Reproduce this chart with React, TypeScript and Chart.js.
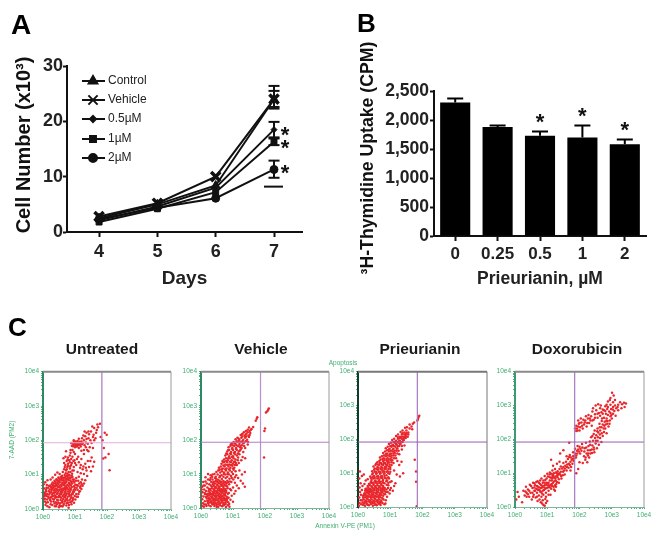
import React, { useEffect, useRef } from "react";
import { Chart, registerables } from "chart.js";
import { drawPoint } from "chart.js/helpers";

Chart.register(...registerables);

const FONT = '"Liberation Sans", Arial, sans-serif';

// Panel A
const days = [4, 5, 6, 7];
const seriesNames = ["Control", "Vehicle", "0.5\u00B5M", "1\u00B5M", "2\u00B5M"];
const controlValues = [2.5, 5.0, 8.4, 24.0];
const vehicleValues = [2.8, 5.2, 10.0, 24.0];
const halfMicroValues = [2.1, 4.6, 8.0, 18.5];
const oneMicroValues = [1.8, 4.2, 7.2, 16.3];
const twoMicroValues = [2.3, 4.4, 6.1, 11.3];
const day7High = [26.4, 25.5, 19.9, 16.9, 12.9];
const day7Low = [22.3, 22.6, 17.1, 15.7, 9.8];
const day7ExtraCap = 8.2;
const cellStars = [17.9, 15.5, 11.0];

// Panel B
const doses = ["0", "0.25", "0.5", "1", "2"];
const uptake = [2300, 1880, 1730, 1700, 1580];
const uptakeHigh = [2370, 1905, 1800, 1905, 1665];
const uptakeStars = [0, 0, 2000, 2105, 1860];

// Panel C: dots are (Annexin, 7-AAD) pairs, in hundredths of a log decade
const flowTickLabels = ["10e0", "10e1", "10e2", "10e3", "10e4"];
const flowTitles = ["Untreated", "Vehicle", "Prieurianin", "Doxorubicin"];
const gateX = [184, 186, 184, 185];
const gateY = [193, 193, 192, 192];

const untreatedDots = [
  28,42, 37,40, 44,44, 52,41, 57,43, 66,42, 71,39, 81,44, 88,41,
  22,47, 31,46, 38,49, 46,47, 53,45, 60,48, 68,47, 74,45, 83,48, 92,46,
  18,52, 26,50, 34,54, 41,52, 49,53, 56,50, 63,54, 70,52, 78,51, 85,53, 94,51,
  21,57, 28,59, 36,56, 43,58, 50,56, 57,57, 65,59, 71,56, 79,57, 87,58, 96,56,
  16,62, 25,63, 33,62, 40,60, 47,64, 54,62, 61,60, 68,63, 75,61, 83,62, 90,64, 99,62,
  22,67, 31,69, 37,66, 44,68, 51,66, 58,67, 66,69, 72,66, 80,67, 87,69, 97,66,
  27,72, 34,74, 41,70, 48,73, 55,71, 62,72, 69,74, 76,71, 84,72, 91,74, 101,71,
  30,77, 39,79, 45,76, 52,78, 60,76, 66,77, 73,79, 81,76, 88,79, 98,77,
  36,82, 44,84, 51,81, 59,83, 65,82, 72,80, 80,84, 86,82, 95,81,
  42,87, 50,89, 57,86, 64,88, 71,86, 78,87, 85,89, 93,86,
  48,92, 56,94, 63,91, 70,93, 77,92, 84,90, 92,93,
  60,97, 68,99, 75,96, 83,98, 90,96,
  3,30, 6,22, 8,12, 5,44, 9,52, 4,60, 11,38, 13,28, 15,20, 18,33, 22,26, 24,14, 26,36,
  30,30, 33,22, 36,16, 38,33, 41,8, 44,27, 47,18, 49,34, 52,11, 55,26, 57,33, 59,19,
  61,7, 63,29, 65,15, 68,34, 70,23, 73,10, 75,30, 78,18, 80,4, 84,27, 87,33, 90,22,
  94,31, 99,38, 104,44, 109,36, 113,50, 108,56, 116,62, 120,58, 124,68, 128,74, 118,78,
  110,82, 106,70, 104,90, 112,94, 122,86, 132,84, 138,96, 128,102, 118,104, 108,108,
  2,72, 7,78, 12,70, 14,84, 24,86, 30,92, 38,100, 45,106, 52,102,
  62,108, 66,116, 72,112, 76,122, 80,108, 84,118, 88,128, 92,112, 96,122, 100,134, 78,132,
  70,128, 82,142, 88,146, 74,140, 66,134, 92,152, 84,156, 78,150, 98,142, 104,128,
  116,120, 124,116, 136,112, 144,122, 150,110, 156,124, 160,138, 148,140, 132,132, 120,146, 110,152,
  96,166, 86,172, 72,168, 64,148,
  90,184, 94,190, 98,186, 101,192, 104,188, 107,194, 110,186, 113,191, 116,187, 119,193, 122,189,
  96,195, 102,197, 108,198, 114,196, 120,197, 125,192, 106,182, 100,180, 112,178, 118,182,
  130,186, 134,194, 140,190, 128,200, 136,204, 132,212, 142,206, 148,200, 152,192, 146,180,
  128,172, 138,172, 156,178, 160,200, 126,214, 136,222, 144,218, 150,226, 158,216, 164,206,
  168,230, 160,236, 172,238, 154,240, 178,248, 170,246, 166,222, 180,210,
  199,216, 193,222, 205,160, 195,150, 208,113, 188,147, 186,200, 190,178,
  4,38, 7,48, 10,56, 13,44, 16,36, 19,42, 23,33, 27,55, 31,38, 35,47, 39,37, 43,35, 47,55, 50,38, 54,35,
  58,53, 62,38, 67,36, 69,58, 73,44, 77,36, 82,38, 86,55, 89,34, 93,44, 97,50, 101,56, 105,62, 109,68, 113,74,
  117,66, 121,72, 103,82, 97,86, 89,93, 81,92, 73,87, 66,90, 58,90, 53,86, 46,82, 39,74, 33,66, 27,64, 19,68,
  11,62, 8,40, 6,30, 10,18, 14,8, 20,5, 25,22, 29,12, 34,28, 37,8, 40,20, 43,14, 47,25, 50,5, 53,17, 56,9,
  60,23, 64,12, 67,22, 71,28, 74,17, 77,25, 81,12, 85,20, 89,14, 93,26, 97,18, 101,28, 105,36, 111,44, 115,52,
  76,103, 81,100, 86,108, 91,103, 96,112, 71,104, 68,122, 74,116, 79,126, 85,124, 90,134, 95,140, 84,136, 77,144, 70,152,
  86,164, 92,172, 100,160, 106,146, 112,136, 118,128, 126,124, 134,120, 140,140, 152,150, 128,160, 120,170, 134,180, 142,168,
  156,210, 142,226, 130,226, 122,206, 112,205, 96,200, 88,192, 93,183, 103,185, 106,191, 111,189, 117,190, 99,189,
];

const vehicleDots = [
  24,8, 30,5, 36,10, 42,6, 48,9, 54,4, 60,8, 66,5, 72,9, 22,14, 28,16, 34,13, 40,17, 46,14, 52,16, 58,13, 64,17, 70,14, 76,16,
  20,21, 26,23, 32,20, 38,24, 44,21, 50,23, 56,20, 62,24, 68,21, 74,23, 80,20,
  18,28, 24,30, 30,27, 36,31, 42,28, 48,30, 54,27, 60,31, 66,28, 72,30, 78,27,
  20,35, 26,37, 32,34, 38,38, 44,35, 50,37, 56,34, 62,38, 68,35, 74,37, 80,34,
  22,42, 28,44, 34,41, 40,45, 46,42, 52,44, 58,41, 64,45, 70,42, 76,44, 84,42,
  24,49, 30,51, 36,48, 42,52, 48,49, 54,51, 60,48, 66,52, 72,49, 78,51,
  28,56, 34,58, 40,55, 46,59, 52,56, 58,58, 64,55, 70,59, 76,56, 83,58,
  34,63, 40,65, 46,62, 52,66, 58,63, 64,65, 70,62, 76,66, 82,63,
  38,70, 44,72, 50,69, 56,73, 62,70, 68,72, 74,69, 80,73, 88,70,
  40,77, 46,79, 52,76, 58,80, 64,77, 70,79, 76,76, 82,80, 90,78,
  3,6, 6,14, 9,4, 12,20, 15,10, 4,26, 8,34, 13,40, 5,46, 10,54, 16,50, 4,62, 12,66, 20,60, 7,76, 18,72, 26,70, 32,76,
  22,84, 30,88, 36,84, 14,90, 44,88, 88,12, 92,24, 96,36, 100,18, 104,42, 94,52, 100,60, 108,50, 112,66, 118,58, 106,74, 96,88,
  86,30, 84,8, 78,3, 137,62, 131,72, 124,80, 137,106, 128,98, 116,88, 110,96, 120,110, 108,108,
  46,92, 52,98, 58,90, 64,96, 70,92, 76,98, 82,92, 88,98, 94,94, 100,100,
  42,100, 48,106, 54,110, 60,104, 66,108, 72,104, 78,110, 84,104, 90,110, 96,106, 102,112,
  56,118, 62,122, 68,116, 74,122, 80,116, 86,122, 92,118, 98,124, 104,118,
  64,130, 70,134, 76,128, 82,134, 88,128, 94,134, 100,130, 106,136, 112,126, 118,132,
  72,142, 78,146, 84,140, 90,146, 96,140, 102,146, 108,142, 116,148, 126,140,
  76,154, 82,158, 88,152, 94,158, 100,152, 106,158, 112,154, 120,158, 130,150, 138,146,
  82,166, 88,170, 94,164, 100,170, 106,164, 112,170, 118,166, 124,172, 132,164,
  86,178, 92,182, 98,176, 104,182, 110,176, 116,182, 122,178, 128,184, 138,176,
  96,190, 102,194, 108,188, 114,194, 120,188, 126,194, 132,190, 140,196, 146,186,
  108,202, 114,206, 120,200, 126,206, 132,200, 138,206, 144,200, 150,208,
  124,214, 130,218, 136,212, 142,218, 148,212, 154,220, 140,226, 146,230, 152,226, 158,232, 163,238, 150,236,
  174,262, 171,256, 176,266, 200,233, 197,148, 207,284, 203,280, 210,288, 212,292, 198,226,
  10,10, 17,6, 21,18, 25,27, 33,18, 37,26, 41,12, 45,24, 49,3, 53,10, 57,28, 61,15, 65,22, 69,8, 73,26, 77,12, 81,24, 85,17, 89,4,
  35,33, 39,41, 43,48, 47,32, 51,46, 55,39, 59,52, 63,32, 67,47, 71,54, 75,38, 79,47, 83,30, 87,44, 91,56,
  29,40, 25,56, 31,66, 37,74, 43,60, 49,78, 55,60, 61,76, 67,67, 73,75, 79,66, 85,76, 47,86, 53,83, 59,94, 65,85, 71,100, 77,88, 83,100, 89,86, 95,76, 101,84, 106,90,
  58,112, 64,114, 70,125, 76,114, 82,126, 88,114, 94,126, 100,116, 106,126, 67,138, 73,136, 79,138, 85,146, 91,136, 97,150, 103,136, 109,132, 115,140,
  79,160, 85,170, 91,160, 97,174, 103,162, 109,174, 115,160, 121,168, 127,176, 93,186, 99,184, 105,190, 111,184, 117,196, 123,182, 129,196, 135,182,
  111,196, 117,204, 123,194, 129,210, 135,192, 141,210, 147,194, 128,216, 134,222, 140,216, 146,222, 152,214, 156,230,
  30,96, 36,98, 22,100, 14,78, 8,66, 2,54, 1,36, 16,32, 12,44, 19,40, 28,82, 35,92,
];

const prieurianinDots = [
  16,6, 22,4, 28,8, 34,5, 40,9, 46,4, 52,7, 58,5, 64,9, 14,13, 20,15, 26,12, 32,16, 38,13, 44,15, 50,12, 56,16, 62,13, 68,15,
  12,20, 18,22, 24,19, 30,23, 36,20, 42,22, 48,19, 54,23, 60,20, 66,22, 72,19,
  16,27, 22,29, 28,26, 34,30, 40,27, 46,29, 52,26, 58,30, 64,27, 70,29, 76,26,
  18,34, 24,36, 30,33, 36,37, 42,34, 48,36, 54,33, 60,37, 66,34, 72,36, 78,33,
  20,41, 26,43, 32,40, 38,44, 44,41, 50,43, 56,40, 62,44, 68,41, 74,43, 80,40,
  22,48, 28,50, 34,47, 40,51, 46,48, 52,50, 58,47, 64,51, 70,48, 76,50, 82,47,
  26,55, 32,57, 38,54, 44,58, 50,55, 56,57, 62,54, 68,58, 74,55, 80,57,
  30,62, 36,64, 42,61, 48,65, 54,62, 60,64, 66,61, 72,65, 78,62,
  36,69, 42,71, 48,68, 54,72, 60,69, 66,71, 72,68, 78,72,
  3,4, 5,12, 8,20, 4,28, 9,36, 6,44, 12,50, 5,58, 14,62, 8,70, 20,68, 4,84, 6,105, 12,92, 24,78, 30,82, 18,96,
  70,6, 76,12, 82,8, 86,20, 90,30, 84,38, 92,44, 88,52, 98,40, 102,56, 94,64, 108,48, 112,62, 116,70, 104,76, 96,84,
  42,80, 48,84, 54,78, 60,84, 66,80, 72,86, 78,80, 84,86, 90,78,
  38,90, 44,96, 50,92, 56,98, 62,92, 68,98, 74,92, 80,98, 88,94, 98,98,
  44,106, 50,110, 56,104, 62,110, 68,104, 74,110, 80,106, 86,112, 92,106, 100,112, 140,100, 130,90, 120,96, 112,108,
  48,120, 54,124, 60,118, 66,124, 72,118, 78,124, 84,118, 90,124, 96,120, 104,124,
  60,132, 66,136, 72,130, 78,136, 84,130, 90,136, 96,132, 102,138, 110,130, 135,134, 128,124, 122,136,
  68,146, 74,150, 80,144, 86,150, 92,144, 98,150, 104,146, 110,152, 118,144,
  78,160, 84,164, 90,158, 96,164, 102,158, 108,164, 114,160, 120,166, 128,156,
  86,174, 92,178, 98,172, 104,178, 110,172, 116,178, 122,174, 128,180, 136,170,
  96,186, 102,190, 108,184, 114,190, 120,184, 126,190, 132,186, 138,192, 144,182,
  106,198, 112,202, 118,196, 124,202, 130,196, 136,202, 142,198, 148,204,
  118,210, 124,214, 130,208, 136,214, 142,208, 148,214, 154,208,
  132,222, 138,226, 144,220, 150,226, 156,220, 160,232, 152,236, 146,234, 166,238, 170,246, 160,244, 174,250, 168,230,
  188,266, 186,260, 190,270, 184,256, 180,105, 180,75, 176,140, 182,2,
  10,8, 19,10, 25,16, 31,7, 37,18, 43,10, 49,17, 55,8, 61,18, 67,11, 73,14, 79,22, 85,10, 15,33, 21,38, 27,31, 33,42, 39,31, 45,38, 51,31, 57,42, 63,31, 69,38, 75,46, 81,52, 87,44, 93,56, 99,50,
  23,53, 29,45, 35,52, 41,46, 47,54, 53,60, 59,53, 65,60, 71,53, 77,60, 83,56, 89,66, 34,68, 40,75, 46,72, 52,76, 58,74, 64,76, 70,74, 76,76, 82,70, 88,76, 94,72, 100,74,
  40,86, 46,88, 52,86, 58,90, 64,86, 70,90, 76,86, 82,92, 88,84, 94,88, 46,100, 52,104, 58,100, 64,104, 70,100, 76,104, 82,100, 88,104, 94,100, 100,104,
  52,114, 58,112, 64,116, 70,112, 76,116, 82,112, 88,118, 94,112, 100,118, 56,128, 62,126, 68,130, 74,126, 80,130, 86,126, 92,130, 98,126, 104,132,
  70,140, 76,142, 82,138, 88,142, 94,138, 100,142, 106,138, 112,144, 80,152, 86,156, 92,152, 98,156, 104,152, 110,158, 116,152, 122,158,
  90,168, 96,170, 102,166, 108,170, 114,166, 120,172, 126,166, 100,180, 106,182, 112,180, 118,186, 124,180, 130,186, 136,180,
  110,192, 116,194, 122,192, 128,196, 134,192, 140,198, 124,206, 130,204, 136,208, 142,204, 148,210, 138,218, 144,214, 150,218, 156,214,
];

const doxorubicinDots = [
  88,6, 84,10, 92,4, 96,12, 80,14, 70,18, 76,22, 86,20, 94,24, 100,18,
  8,44, 4,22, 12,30, 22,14, 30,34, 26,48, 34,60, 36,42, 40,52, 44,30, 46,66, 48,42, 52,22, 54,56, 56,72, 58,36, 60,48, 62,64, 64,28,
  66,54, 68,42, 70,76, 72,60, 74,34, 76,50, 78,68, 80,44, 82,84, 84,58, 86,72, 88,36, 90,50, 92,64, 94,80, 96,42, 98,56,
  100,70, 102,90, 104,48, 106,62, 108,78, 110,36, 112,54, 114,68, 116,84, 118,96, 120,60, 122,76, 124,48, 126,90, 128,68, 130,100,
  68,62, 74,72, 82,64, 88,78, 92,72, 98,84, 104,72, 108,88, 114,78, 120,88, 126,78, 132,88, 136,72, 140,96, 144,84,
  60,58, 72,50, 80,56, 86,48, 94,54, 102,58, 110,66, 118,72, 124,64, 130,74, 136,82, 142,104, 148,94, 152,108, 146,114, 154,96,
  132,106, 138,112, 126,102, 134,96, 120,100, 116,108, 124,112, 112,98, 142,120, 150,118, 156,122, 160,108, 162,126, 158,134, 166,116,
  150,130, 170,124, 172,134, 164,142, 176,140, 168,148, 178,128, 180,150, 174,118, 182,136, 160,150, 184,144, 170,154, 186,158,
  190,152, 192,166, 180,162, 196,170, 202,158, 186,172, 200,178, 206,166, 194,180, 172,108, 130,128, 118,122, 138,134, 190,100,
  210,130, 218,140, 224,132, 230,146, 214,150, 222,158, 234,158, 226,168, 238,170, 216,174, 228,180, 240,182, 208,186, 220,190,
  232,194, 244,176, 246,162, 250,188, 254,174, 242,196, 236,206, 248,204, 256,196, 260,184, 252,212, 244,216, 264,204, 258,220,
  268,192, 272,210, 264,226, 276,222, 256,232, 268,236, 280,232, 284,218, 272,244, 286,246, 278,252, 290,238, 262,246, 294,256,
  284,262, 296,268, 288,272, 300,262, 276,264, 304,276, 292,282, 282,276, 308,284, 298,290, 270,262, 312,270, 286,290, 304,296,
  186,232, 190,240, 194,226, 198,246, 202,236, 206,250, 210,232, 214,244, 218,256, 222,238, 226,262, 230,248, 234,256, 238,240,
  196,256, 204,262, 212,258, 220,268, 228,272, 236,268, 240,282, 244,258, 248,274, 252,286, 256,264, 260,278, 264,292, 268,280,
  272,276, 276,286, 280,298, 242,292, 250,300, 258,304, 266,300, 284,302, 288,312, 296,302, 304,310, 314,292, 320,302, 326,310,
  332,304, 338,308, 344,306, 320,286, 330,292, 340,296, 296,322, 301,338, 306,330, 294,316, 310,316, 168,190, 150,168, 140,158,
  112,140, 200,132, 196,112,
  70,52, 78,46, 84,40, 91,58, 97,66, 103,64, 109,58, 115,62, 121,52, 127,60, 107,96, 113,86, 119,92, 125,84, 131,94, 137,100, 143,92, 149,104, 155,114, 161,118,
  167,128, 173,146, 179,142, 185,152, 189,146, 193,158, 198,164, 203,172, 209,176, 215,164, 221,176, 227,158, 233,168, 239,160, 245,170, 251,196, 257,206, 263,214, 269,218, 275,232,
  281,244, 287,254, 293,246, 299,272, 283,254, 277,240, 269,254, 263,236, 255,224, 247,226, 240,210, 233,184, 226,152, 219,146, 192,232, 196,238, 200,248, 208,240, 216,250, 224,248,
  232,262, 240,256, 248,264, 256,276, 264,270, 272,288, 280,284, 288,296, 296,278, 303,288, 310,300, 318,296, 190,225, 200,226, 78,78, 66,74, 60,70, 54,42, 50,62, 44,48,
  40,38, 36,30, 32,46, 56,30, 68,30, 82,30, 96,30, 104,36, 92,92, 100,98, 108,102, 116,92, 98,72, 86,62, 74,58, 62,48,
];

const flowDots = [untreatedDots, vehicleDots, prieurianinDots, doxorubicinDots];

const toPoints = (flat: number[]) => {
  const pts: { x: number; y: number }[] = [];
  for (let i = 0; i + 1 < flat.length; i += 2) pts.push({ x: flat[i], y: flat[i + 1] });
  return pts;
};

const fixedSize = (prop: "width" | "height", size: number) => (scale: any) => {
  scale[prop] = size;
};

const starFont = `bold 22px ${FONT}`;
const drawStar = (ctx: CanvasRenderingContext2D, x: number, y: number) => {
  ctx.font = starFont;
  ctx.textAlign = "center";
  ctx.textBaseline = "alphabetic";
  ctx.fillStyle = "#111";
  ctx.fillText("*", x, y + 9);
};

const drawRotated = (ctx: CanvasRenderingContext2D, text: string, x: number, y: number, font: string, color: string) => {
  ctx.save();
  ctx.translate(x, y);
  ctx.rotate(-Math.PI / 2);
  ctx.font = font;
  ctx.fillStyle = color;
  ctx.textAlign = "center";
  ctx.textBaseline = "middle";
  ctx.fillText(text, 0, 0);
  ctx.restore();
};

const markerStyles = [
  { pointStyle: "triangle", radius: 5, borderWidth: 1 },
  { pointStyle: "crossRot", radius: 6.5, borderWidth: 3.5 },
  { pointStyle: "rectRot", radius: 3, borderWidth: 1 },
  { pointStyle: "rect", radius: 4.2, borderWidth: 1 },
  { pointStyle: "circle", radius: 4, borderWidth: 1 },
];

const panelAPlugin = {
  id: "panelA",
  afterDatasetsDraw(chart: any) {
    const { ctx, scales } = chart;
    const x7 = scales.x.getPixelForValue(7);
    ctx.save();
    ctx.strokeStyle = "#111";
    ctx.lineWidth = 2;
    const segment = (a: number, b: number, c: number, d: number) => {
      ctx.beginPath();
      ctx.moveTo(a, b);
      ctx.lineTo(c, d);
      ctx.stroke();
    };
    day7High.forEach((hi, i) => {
      const yh = scales.y.getPixelForValue(hi);
      const yl = scales.y.getPixelForValue(day7Low[i]);
      segment(x7, yh, x7, yl);
      segment(x7 - 5.5, yh, x7 + 5.5, yh);
      segment(x7 - 5.5, yl, x7 + 5.5, yl);
    });
    const extra = scales.y.getPixelForValue(day7ExtraCap);
    segment(x7 - 10, extra, x7 + 9, extra);
    cellStars.forEach((v) => drawStar(ctx, x7 + 11, scales.y.getPixelForValue(v)));

    const rows = [81, 100, 119, 139, 158];
    seriesNames.forEach((name, i) => {
      ctx.strokeStyle = "#111";
      ctx.lineWidth = 2;
      segment(82, rows[i], 105, rows[i]);
      ctx.fillStyle = "#111";
      drawPoint(ctx, { ...markerStyles[i], rotation: 0 }, 93, rows[i]);
      ctx.font = `12px ${FONT}`;
      ctx.textAlign = "left";
      ctx.textBaseline = "middle";
      ctx.fillStyle = "#222";
      ctx.fillText(name, 108, rows[i]);
    });

    ctx.font = `bold 28px ${FONT}`;
    ctx.textAlign = "left";
    ctx.textBaseline = "alphabetic";
    ctx.fillStyle = "#000";
    ctx.fillText("A", 11, 34);
    drawRotated(ctx, "Cell Number (x10\u00B3)", 24, 145, `bold 20px ${FONT}`, "#111");
    ctx.restore();
  },
};

const panelBPlugin = {
  id: "panelB",
  afterDatasetsDraw(chart: any) {
    const { ctx, scales } = chart;
    ctx.save();
    ctx.strokeStyle = "#000";
    ctx.lineWidth = 2;
    uptakeHigh.forEach((hi, i) => {
      const x = scales.x.getPixelForValue(i);
      const yh = scales.y.getPixelForValue(hi);
      const yb = scales.y.getPixelForValue(uptake[i]);
      ctx.beginPath();
      ctx.moveTo(x, yb);
      ctx.lineTo(x, yh);
      ctx.moveTo(x - 8, yh);
      ctx.lineTo(x + 8, yh);
      ctx.stroke();
      if (uptakeStars[i]) drawStar(ctx, x, scales.y.getPixelForValue(uptakeStars[i]));
    });
    ctx.font = `bold 26px ${FONT}`;
    ctx.textAlign = "left";
    ctx.textBaseline = "alphabetic";
    ctx.fillStyle = "#000";
    ctx.fillText("B", 27, 32);
    drawRotated(ctx, "\u00B3H-Thymidine Uptake (CPM)", 38, 158, `bold 17.7px ${FONT}`, "#111");
    ctx.restore();
  },
};

type FlowLayout = {
  left: number; width: number; titleCenter: number; plotLeft: number; plotRight: number; plotBottom: number;
  top: string; right: string; leftEdge: string; bottomEdge: string; gateH: string; gateV: string;
};

const FLOW_TOP = 310;
const FLOW_BOTTOM = 535;
const flowLayouts: FlowLayout[] = [
  { left: 0, width: 204, titleCenter: 102, plotLeft: 43, plotRight: 171, plotBottom: 509, top: "#8a8a8a", right: "#9a9a9a", leftEdge: "#2c8a62", bottomEdge: "#7fb59a", gateH: "#e2aee0", gateV: "#a878c0" },
  { left: 171, width: 180, titleCenter: 261, plotLeft: 201, plotRight: 329, plotBottom: 508, top: "#8a8a8a", right: "#9a9a9a", leftEdge: "#2c8a62", bottomEdge: "#7fb59a", gateH: "#b47cc8", gateV: "#b890cc" },
  { left: 300, width: 240, titleCenter: 420, plotLeft: 358, plotRight: 487, plotBottom: 507, top: "#777", right: "#777", leftEdge: "#123c2a", bottomEdge: "#7fb59a", gateH: "#9a5cb4", gateV: "#a878c0" },
  { left: 497, width: 160, titleCenter: 577, plotLeft: 515, plotRight: 644, plotBottom: 507, top: "#8a8a8a", right: "#9a9a9a", leftEdge: "#3c9a72", bottomEdge: "#7fb59a", gateH: "#9a5cb4", gateV: "#a878c0" },
];

const flowPlugin = (index: number) => ({
  id: "flowFrame",
  afterLayout(chart: any) {
    // The reference's titles sit a little left of their plots' centres.
    const l = flowLayouts[index];
    const centre = l.titleCenter - l.left;
    chart.titleBlock.left = centre - 60;
    chart.titleBlock.right = centre + 60;
  },
  afterDatasetsDraw(chart: any) {
    const { ctx, chartArea: a } = chart;
    const l = flowLayouts[index];
    ctx.save();
    ctx.lineWidth = 2;
    ctx.strokeStyle = l.top;
    ctx.beginPath();
    ctx.moveTo(a.left, a.top);
    ctx.lineTo(a.right, a.top);
    ctx.stroke();
    ctx.lineWidth = 1;
    ctx.strokeStyle = l.right;
    ctx.beginPath();
    ctx.moveTo(a.right, a.top);
    ctx.lineTo(a.right, a.bottom);
    ctx.stroke();
    const green = "#3fae72";
    if (index === 0) {
      ctx.font = `bold 26px ${FONT}`;
      ctx.fillStyle = "#000";
      ctx.textAlign = "left";
      ctx.textBaseline = "alphabetic";
      ctx.fillText("C", 8, 26);
      drawRotated(ctx, "7-AAD (PM2)", 12, 130, `6.5px ${FONT}`, green);
    }
    if (index === 2) {
      ctx.font = `6.5px ${FONT}`;
      ctx.fillStyle = green;
      ctx.textAlign = "center";
      ctx.textBaseline = "middle";
      ctx.fillText("Apoptosis", 43, 53);
      ctx.fillText("Annexin V-PE (PM1)", 45, 216);
    }
    ctx.restore();
  },
});

const decadeTicks = (scale: any) => {
  const ticks: { value: number }[] = [];
  for (let d = 0; d < 4; d++) {
    for (let m = 1; m < 10; m++) ticks.push({ value: 100 * (d + Math.log10(m)) });
  }
  ticks.push({ value: 400 });
  scale.ticks = ticks;
};
const decadeLabel = (value: number) =>
  Math.abs(value % 100) < 1e-6 ? flowTickLabels[Math.round(value / 100)] : "";

export default function App() {
  const refA = useRef<HTMLCanvasElement>(null);
  const refB = useRef<HTMLCanvasElement>(null);
  const refC = useRef<(HTMLCanvasElement | null)[]>([]);

  useEffect(() => {
    const charts: Chart[] = [];
    const valuesA = [controlValues, vehicleValues, halfMicroValues, oneMicroValues, twoMicroValues];

    charts.push(
      new Chart(refA.current!, {
        type: "scatter",
        data: {
          datasets: seriesNames.map((name, i) => ({
            label: name,
            data: days.map((d, k) => ({ x: d, y: valuesA[i][k] })),
            showLine: true,
            borderColor: "#111",
            backgroundColor: "#111",
            borderWidth: 2,
            pointStyle: markerStyles[i].pointStyle,
            pointRadius: markerStyles[i].radius,
            pointBorderWidth: markerStyles[i].borderWidth,
            pointBorderColor: "#111",
            pointBackgroundColor: "#111",
            tension: 0,
          })),
        },
        options: {
          animation: false,
          responsive: false,
          layout: { padding: { top: 66, right: 28, left: 0, bottom: 0 } },
          plugins: { legend: { display: false }, tooltip: { enabled: false } },
          scales: {
            x: {
              type: "linear",
              min: 3.45,
              max: 7.48,
              afterFit: fixedSize("height", 68),
              grid: { drawOnChartArea: false, tickLength: 5, tickColor: "#111", tickWidth: 2 },
              border: { color: "#111", width: 2 },
              ticks: { stepSize: 1, includeBounds: false, padding: 4, color: "#222", font: { family: FONT, weight: "bold", size: 18 } },
              title: { display: true, text: "Days", color: "#222", font: { family: FONT, weight: "bold", size: 19 }, padding: { top: 0, bottom: 10 } },
            },
            y: {
              min: 0,
              max: 30,
              afterFit: fixedSize("width", 67),
              grid: { drawOnChartArea: false, tickLength: 4, tickColor: "#111", tickWidth: 2 },
              border: { color: "#111", width: 2 },
              ticks: { stepSize: 10, padding: 0, color: "#222", font: { family: FONT, weight: "bold", size: 18 } },
            },
          },
        },
        plugins: [panelAPlugin],
      } as any)
    );

    charts.push(
      new Chart(refB.current!, {
        type: "bar",
        data: {
          labels: doses,
          datasets: [{ label: "Uptake", data: uptake, backgroundColor: "#000", barPercentage: 0.71, categoryPercentage: 1 }],
        },
        options: {
          animation: false,
          responsive: false,
          layout: { padding: { top: 91, right: 11, left: 0, bottom: 0 } },
          plugins: { legend: { display: false }, tooltip: { enabled: false } },
          scales: {
            x: {
              afterFit: fixedSize("height", 64),
              grid: { drawOnChartArea: false, offset: false, tickLength: 5, tickColor: "#111", tickWidth: 2 },
              border: { color: "#111", width: 2 },
              ticks: { padding: 3, color: "#222", font: { family: FONT, weight: "bold", size: 17 } },
              title: { display: true, text: "Prieurianin, \u00B5M", color: "#222", font: { family: FONT, weight: "bold", size: 17.5 }, padding: { top: 0, bottom: 10 } },
            },
            y: {
              min: 0,
              max: 2500,
              afterFit: fixedSize("width", 104),
              grid: { drawOnChartArea: false, tickLength: 4, tickColor: "#111", tickWidth: 2 },
              border: { color: "#111", width: 2 },
              ticks: { stepSize: 500, padding: 1, color: "#222", font: { family: FONT, weight: "bold", size: 17.5 }, callback: (v: number) => v.toLocaleString("en-US") },
            },
          },
        },
        plugins: [panelBPlugin],
      } as any)
    );

    flowLayouts.forEach((l, i) => {
      const tickStyle = {
        autoSkip: false,
        maxRotation: 0,
        minRotation: 0,
        padding: 2,
        color: "#3fae72",
        font: { family: FONT, size: 6.5 },
        callback: decadeLabel,
      };
      charts.push(
        new Chart(refC.current[i]!, {
          type: "scatter",
          data: {
            datasets: [
              {
                label: "Gate H",
                data: [{ x: 0, y: gateY[i] }, { x: 400, y: gateY[i] }],
                showLine: true,
                borderColor: l.gateH,
                borderWidth: 1,
                pointRadius: 0,
                order: 1,
              },
              {
                label: "Gate V",
                data: [{ x: gateX[i], y: 0 }, { x: gateX[i], y: 400 }],
                showLine: true,
                borderColor: l.gateV,
                borderWidth: 1.2,
                pointRadius: 0,
                order: 1,
              },
              {
                label: flowTitles[i],
                data: toPoints(flowDots[i]),
                backgroundColor: "#e8262c",
                pointBackgroundColor: "#e8262c",
                pointBorderWidth: 0,
                pointRadius: 1.25,
                order: 2,
              },
            ],
          },
          options: {
            animation: false,
            responsive: false,
            layout: { padding: { top: 0, right: l.left + l.width - l.plotRight, left: 0, bottom: 0 } },
            plugins: {
              legend: { display: false },
              tooltip: { enabled: false },
              title: {
                display: true,
                text: flowTitles[i],
                color: "#1a1a1a",
                font: { family: FONT, weight: "bold", size: 15.5 },
                padding: { top: 30.5, bottom: 12.6 },
              },
            },
            scales: {
              x: {
                type: "linear",
                min: 0,
                max: 400,
                afterFit: fixedSize("height", FLOW_BOTTOM - l.plotBottom),
                afterBuildTicks: decadeTicks,
                grid: { drawOnChartArea: false, tickLength: 2, tickColor: "#4fae82" },
                border: { color: l.bottomEdge, width: 1 },
                ticks: tickStyle,
              },
              y: {
                min: 0,
                max: 400,
                afterFit: fixedSize("width", l.plotLeft - l.left),
                afterBuildTicks: decadeTicks,
                grid: { drawOnChartArea: false, tickLength: 2, tickColor: "#4fae82" },
                border: { color: l.leftEdge, width: 2 },
                ticks: tickStyle,
              },
            },
          },
          plugins: [flowPlugin(i)],
        } as any)
      );
    });

    return () => charts.forEach((c) => c.destroy());
  }, []);

  const base: React.CSSProperties = { position: "absolute", display: "block", filter: "blur(0.45px)" };
  return (
    <div style={{ position: "absolute", left: 0, top: 0, width: 657, height: 539, background: "#fff", overflow: "hidden" }}>
      <canvas ref={refA} width={330} height={300} style={{ ...base, left: 0, top: 0 }} />
      <canvas ref={refB} width={327} height={300} style={{ ...base, left: 330, top: 0 }} />
      {flowLayouts.map((l, i) => (
        <canvas
          key={flowTitles[i]}
          ref={(el) => {
            refC.current[i] = el;
          }}
          width={l.width}
          height={FLOW_BOTTOM - FLOW_TOP}
          style={{ ...base, left: l.left, top: FLOW_TOP }}
        />
      ))}
    </div>
  );
}
